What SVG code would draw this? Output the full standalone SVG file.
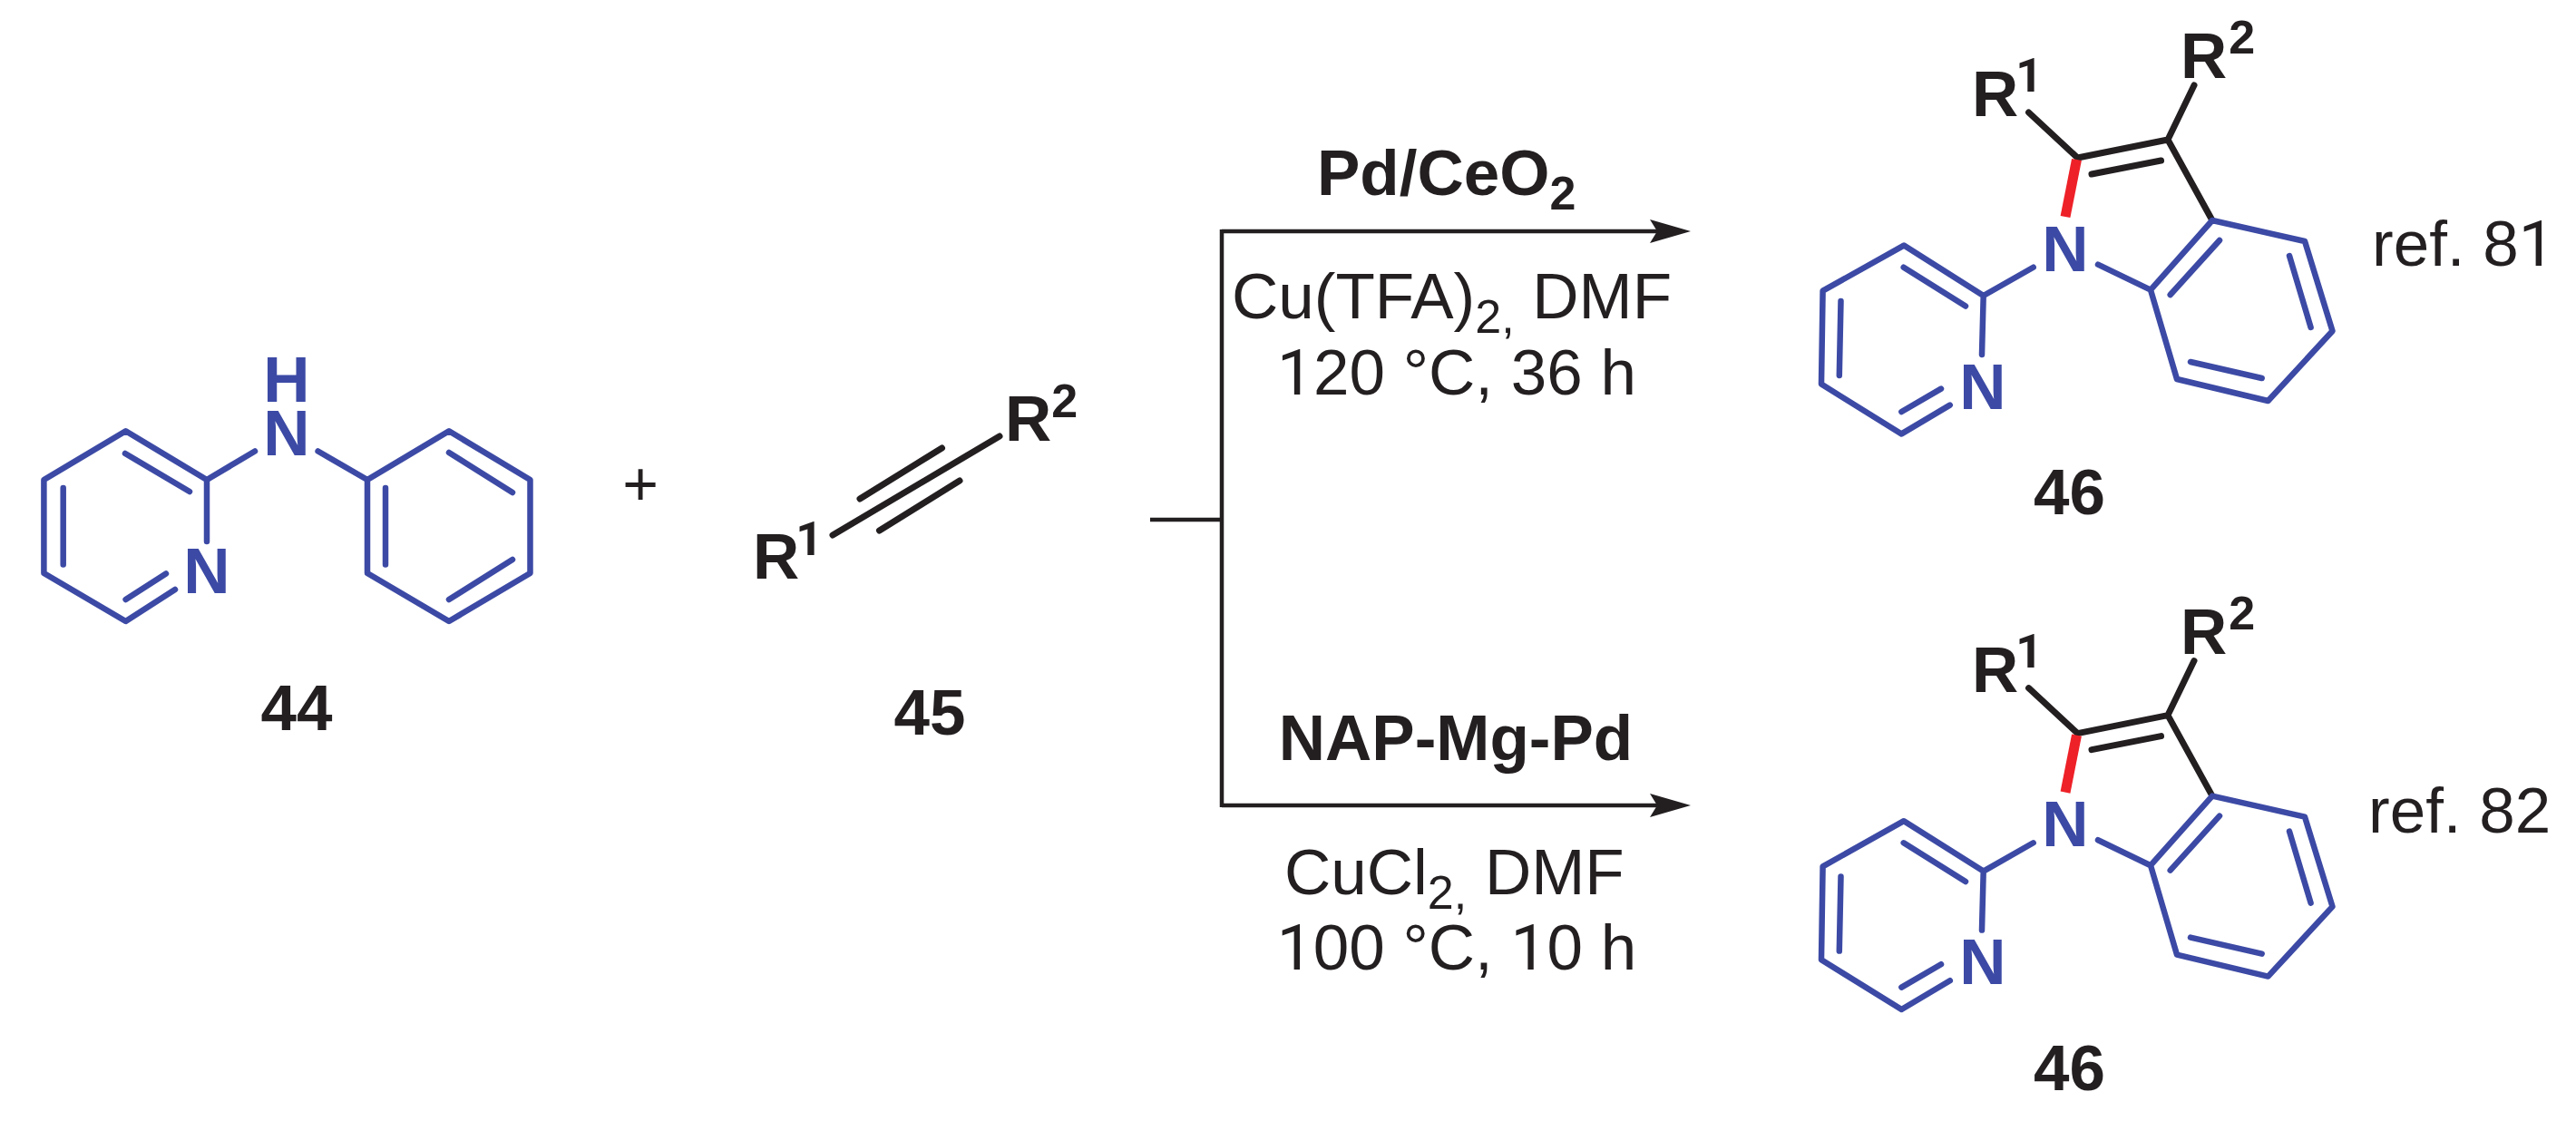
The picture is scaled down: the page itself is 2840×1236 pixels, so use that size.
<svg xmlns="http://www.w3.org/2000/svg" width="2840" height="1236" viewBox="0 0 2840 1236">
<style>
text{font-family:"Liberation Sans",Arial,sans-serif;fill:#231f20}
.l{font-size:71px}
.lb{font-size:71px;font-weight:700}
.sup{font-size:52px;font-weight:700}
.one{font-family:Roboto,"Liberation Sans",sans-serif}
.atom{fill:#3c4aa5;font-size:71px;font-weight:700;text-anchor:middle}
.num{font-size:71px;font-weight:700;text-anchor:middle}
.blue{fill:none;stroke:#3c4aa5;stroke-width:6.500;stroke-linecap:round;stroke-linejoin:round}
.black{fill:none;stroke:#231f20;stroke-width:7;stroke-linecap:round;stroke-linejoin:round}
.red{fill:none;stroke:#ee2128;stroke-width:11}
.wire{fill:none;stroke:#231f20;stroke-width:4.500}
</style>
<defs>
<marker id="head" markerUnits="userSpaceOnUse" markerWidth="45" markerHeight="26" viewBox="0 0 45 26" refX="8" refY="13" orient="auto">
<path d="M0 0L45 13L0 26L8 13Z" fill="#231f20"/>
</marker>
</defs>
<rect width="2840" height="1236" fill="#ffffff"/>
<g id="connectors">
<path class="wire" d="M1347 255H1827" marker-end="url(#head)"/>
<path class="wire" d="M1347 888H1827" marker-end="url(#head)"/>
<path class="wire" d="M1347 253V890"/>
<path class="wire" d="M1268 573H1347"/>
</g>
<g id="compound-44">
<path class="blue" d="M228 529L138.600 475.300L48.400 529V632L138.600 685L193 650M228 529V597M138 500L209 542M69.700 538V622.600M138.600 661L183 632.500"/>
<path class="blue" d="M228 529L281 497.500M350.600 497.500L405 529L495 475.300L584.500 529V632L495 685L405 632V529M495 499L565 543M425 538V622.600M495 661L565 617"/>
<text class="atom" x="316" y="443">H</text>
<text class="atom" x="316" y="502">N</text>
<text class="atom" x="228" y="654">N</text>
<text class="num" x="327" y="805">44</text>
</g>
<g id="plus">
<text x="706" y="557" font-size="68" text-anchor="middle">+</text>
</g>
<g id="compound-45">
<path class="black" d="M918 590L1102 481M948 550L1038.500 494M969.500 585L1058 530"/>
<text class="lb" x="830" y="638">R<tspan class="sup one" dx="-4" dy="-26">1</tspan></text>
<text class="lb" x="1108" y="486">R<tspan class="sup" dy="-26">2</tspan></text>
<text class="num" x="1025" y="810">45</text>
</g>
<g id="conditions-top">
<text class="lb" x="1452" y="215">Pd/CeO<tspan font-size="52" dy="16">2</tspan></text>
<text class="l" x="1358" y="351">Cu(TFA)<tspan font-size="52" dy="16">2,</tspan><tspan dy="-16"> DMF</tspan></text>
<text class="l" x="1606" y="435" text-anchor="middle"><tspan class="one">1</tspan>20 °C, 36 h</text>
</g>
<g id="conditions-bottom">
<text class="lb" x="1605" y="838" text-anchor="middle">NAP-Mg-Pd</text>
<text class="l" x="1416" y="986">CuCl<tspan font-size="52" dy="16">2,</tspan><tspan dy="-16"> DMF</tspan></text>
<text class="l" x="1606" y="1069" text-anchor="middle"><tspan class="one">1</tspan>00 °C, <tspan class="one">1</tspan>0 h</text>
</g>
<g id="product-46-top">
<path class="black" d="M2236.600 124L2290.500 174L2390 154L2419 94M2390 154L2439 243M2306 192L2382.500 177"/>
<path class="red" d="M2289.500 176L2277 239"/>
<path class="blue" d="M2313 291.600L2371 319.600L2439 243L2541 266L2571.500 365L2500.500 442L2400 418L2371 319.600M2447 265L2392.700 325M2524 282L2547.600 361M2415 399L2493.700 417"/>
<path class="blue" d="M2241.700 294.700L2186.700 326L2099 270.600L2009.600 320.700L2008 423.600L2096.400 478.400L2149.800 446.600M2186.700 326L2185 391M2098.700 294.700L2167 337.500M2029.500 332L2027.800 414M2096.400 454L2140 428.600"/>
<text class="atom" x="2277" y="298.500">N</text>
<text class="atom" x="2186" y="450.500">N</text>
<text class="lb" x="2174" y="128">R<tspan class="sup one" dx="-3" dy="-27">1</tspan></text>
<text class="lb" x="2404" y="86">R<tspan class="sup" dx="2" dy="-27">2</tspan></text>
<text class="num" x="2281.500" y="567">46</text>
<text class="l" x="2615" y="293">ref. 8<tspan class="one">1</tspan></text>
</g>
<g id="product-46-bottom">
<path class="black" d="M2236.600 758.600L2290.500 808.600L2390 788.600L2419 728.600M2390 788.600L2439 877.600M2306 826.600L2382.500 811.600"/>
<path class="red" d="M2289.500 810.600L2277 873.600"/>
<path class="blue" d="M2313 926.200L2371 954.200L2439 877.600L2541 900.600L2571.500 999.600L2500.500 1076.600L2400 1052.600L2371 954.200M2447 899.600L2392.700 959.600M2524 916.600L2547.600 995.600M2415 1033.600L2493.700 1051.600"/>
<path class="blue" d="M2241.700 929.300L2186.700 960.600L2099 905.200L2009.600 955.300L2008 1058.200L2096.400 1113L2149.800 1081.200M2186.700 960.600L2185 1025.600M2098.700 929.300L2167 972.100M2029.500 966.600L2027.800 1048.600M2096.400 1088.600L2140 1063.200"/>
<text class="atom" x="2277" y="933">N</text>
<text class="atom" x="2186" y="1085">N</text>
<text class="lb" x="2174" y="762.600">R<tspan class="sup one" dx="-3" dy="-27">1</tspan></text>
<text class="lb" x="2404" y="720.600">R<tspan class="sup" dx="2" dy="-27">2</tspan></text>
<text class="num" x="2281.500" y="1202">46</text>
<text class="l" x="2611" y="918">ref. 82</text>
</g>
</svg>
